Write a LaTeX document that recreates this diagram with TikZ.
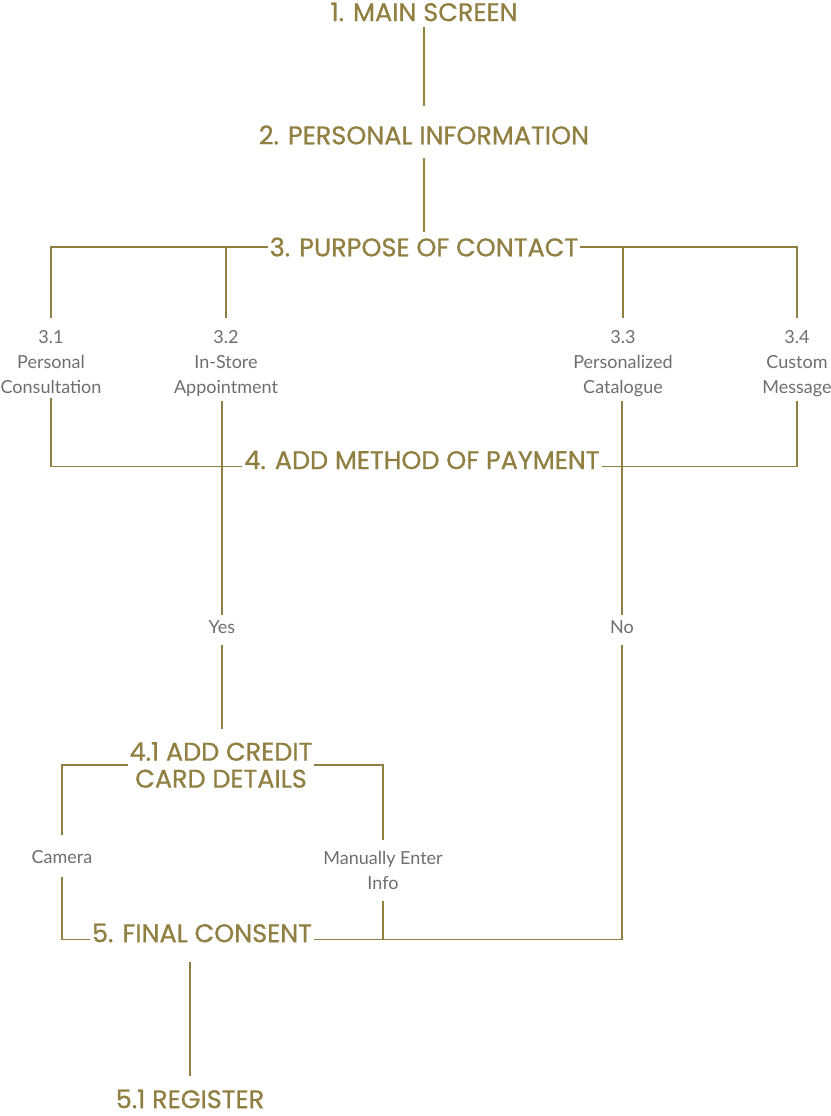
\documentclass[tikz,border=0pt]{standalone}
\usepackage{fontspec}
\setmainfont{Lato}
\newfontfamily\titlefont[FakeBold=0.8]{Poppins}
\usetikzlibrary{positioning}
\definecolor{Gold}{HTML}{917F42}
\definecolor{MidGrey}{HTML}{6E6E6E}
\tikzstyle{stage}=[font=\titlefont\fontsize{25.5}{27}\selectfont,text=Gold,align=center,
                     inner sep=0pt,outer xsep=2pt,outer ysep=6pt]
\tikzstyle{choice}=[font=\fontsize{18}{25}\selectfont,text=MidGrey,align=center,
                     inner sep=0pt,outer ysep=5pt]
\tikzstyle{link}=[draw=Gold,line width=1.6pt]

\begin{document}
\begin{tikzpicture}[x=1pt,y=-1pt]
  \useasboundingbox (0,0) rectangle (830,1116);
  % main path
  \node[stage] (main) at (424,12) {1. MAIN SCREEN};
  \node[stage] (personal) at (424,135) {2. PERSONAL INFORMATION};
  \node[stage] (purpose) at (424,247) {3. PURPOSE OF CONTACT};
  \node[choice,anchor=north] (consult) at (51,325) {3.1\\Personal\\Consultation};
  \node[choice,anchor=north] (instore) at (226,325) {3.2\\In-Store\\Appointment};
  \node[choice,anchor=north] (catalogue) at (623,325) {3.3\\Personalized\\Catalogue};
  \node[choice,anchor=north] (message) at (797,325) {3.4\\Custom\\Message};
  \node[stage] (payment) at (422,460) {4. ADD METHOD OF PAYMENT};
  \node[choice] (yes) at (222,627) {Yes};
  \node[choice] (no) at (622,627) {No};
  \node[stage] (credit) at (221,765) {4.1 ADD CREDIT\\CARD DETAILS};
  \node[choice] (camera) at (62,857) {Camera};
  \node[choice,anchor=north] (manual) at (383,846) {Manually Enter\\Info};
  \node[stage] (consent) at (202,933) {5. FINAL CONSENT};
  \node[stage] (register) at (190,1099) {5.1 REGISTER};

  \draw[link,shorten >=14pt] (main) -- (personal);
  \draw[link,shorten <=8pt] (personal) -- (purpose);
  % purposes
  \draw[link,shorten >=7pt] (purpose.west) -| (consult.north);
  \draw[link,shorten >=7pt] (instore.north |- purpose.west) -- (instore.north);
  \draw[link,shorten >=7pt] (purpose.east) -| (message.north);
  \draw[link,shorten >=7pt] (catalogue.north |- purpose.east) -- (catalogue.north);
  \draw[link] (consult.south) |- (payment.mid west);
  \draw[link] (message.south) |- (payment.mid east);
  \draw[link] (instore.south -| yes) -- (yes.north);
  \draw[link] (catalogue.south -| no) -- (no.north);
  % payment
  \draw[link,shorten <=6pt,shorten >=7pt] (yes.south) -- (yes.south |- credit.north);
  \draw[link,shorten >=10pt] (credit.west) -| (camera.north);
  \draw[link,shorten >=6pt] (credit.east) -| (manual.north);
  \draw[link,shorten <=8pt] (camera.south) |- (consent.mid west);
  \draw[link,shorten <=6pt] (no.south) |- (consent.mid east);
  \draw[link,shorten <=7pt] (manual.south) -- (manual.south |- consent.mid east);
  \draw[link,shorten <=14pt,shorten >=8pt] (consent.south -| register) -- (register.north);
\end{tikzpicture}
\end{document}
